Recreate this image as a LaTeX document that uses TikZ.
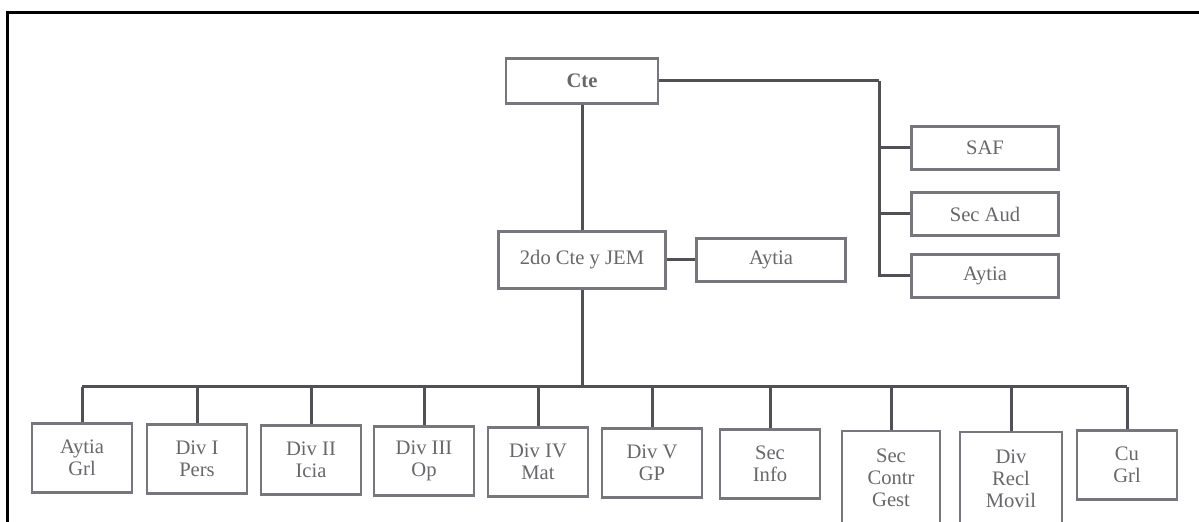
\documentclass[tikz,border=0pt]{standalone}
\usepackage{fontspec}
\setmainfont{Liberation Serif}
\usepackage{xcolor}
\usepackage{tikz}
\usetikzlibrary{positioning, calc}

\definecolor{inkgray}{HTML}{68686C}
\definecolor{linegray}{HTML}{505055}
\definecolor{boxgray}{HTML}{76767C}

\begin{document}
\begin{tikzpicture}[
    x=0.5pt, y=-0.5pt,
    unitbox/.style={rectangle, draw=boxgray, line width=1.1pt, fill=white, text=inkgray, inner sep=1pt, align=center, font=\fontsize{10.3}{11}\selectfont},
    topbox/.style={unitbox, minimum width=74pt, minimum height=21.5pt},
    lowbox/.style={unitbox, minimum width=50pt, minimum height=34.5pt},
    tallbox/.style={unitbox, minimum width=49pt, minimum height=47pt},
    link/.style={draw=linegray, line width=1.5pt},
    frame/.style={draw=black, line width=1.6pt}
]
    \clip (0,0) rectangle (1199,522);
    \fill[white] (0,0) rectangle (1199,522);

    % command level
    \node[topbox, minimum width=76pt, minimum height=22.5pt, font=\fontsize{10.3}{11}\selectfont\bfseries] (cte) at (582,81) {Cte};
    \node[topbox, minimum width=83.5pt, minimum height=28.5pt] (jem) at (582,260) {2do Cte y JEM};
    \node[topbox, minimum width=74.5pt] (aytiaA) at (771,260) {Aytia};
    \node[topbox, minimum width=73.5pt] (saf) at (985,148) {SAF};
    \node[topbox, minimum width=73.5pt] (secaud) at (985,214) {Sec Aud};
    \node[topbox, minimum width=73.5pt] (aytiaB) at (985,276) {Aytia};

    % staff row
    \node[lowbox] (a1) at (82,458) {Aytia\\Grl};
    \node[lowbox] (a2) at (197,459) {Div I\\Pers};
    \node[lowbox] (a3) at (311,460) {Div II\\Icia};
    \node[lowbox] (a4) at (424,461) {Div III\\Op};
    \node[lowbox] (a5) at (538,462) {Div IV\\Mat};
    \node[lowbox] (a6) at (652,463) {Div V\\GP};
    \node[lowbox] (a7) at (770,464) {Sec\\Info};
    \node[tallbox] (a8) at (891,478) {Sec\\Contr\\Gest};
    \node[tallbox, minimum width=51pt] (a9) at (1011,479) {Div\\Recl\\Movil};
    \node[lowbox] (a10) at (1127,465) {Cu\\Grl};

    \coordinate (trunk) at (879,81);
    \coordinate (bus) at (582,387);

    \draw[link] (cte) -- (jem);
    \draw[link] (cte) -- (trunk);
    \draw[link] (trunk) |- (aytiaB);
    \draw[link] (trunk |- saf) -- (saf);
    \draw[link] (trunk |- secaud) -- (secaud);
    \draw[link] (jem) -- (aytiaA);
    \draw[link] (jem) -- (bus);
    \draw[link] (a1 |- bus) -- (a10 |- bus);

    \draw[link] (a1 |- bus) -- (a1);
    \draw[link] (a2 |- bus) -- (a2);
    \draw[link] (a3 |- bus) -- (a3);
    \draw[link] (a4 |- bus) -- (a4);
    \draw[link] (a5 |- bus) -- (a5);
    \draw[link] (a6 |- bus) -- (a6);
    \draw[link] (a7 |- bus) -- (a7);
    \draw[link] (a8 |- bus) -- (a8);
    \draw[link] (a9 |- bus) -- (a9);
    \draw[link] (a10 |- bus) -- (a10);

    % scan frame
    \draw[frame] (7.5,522) -- (7.5,12.5) -- (1199,12.5);
\end{tikzpicture}
\end{document}
